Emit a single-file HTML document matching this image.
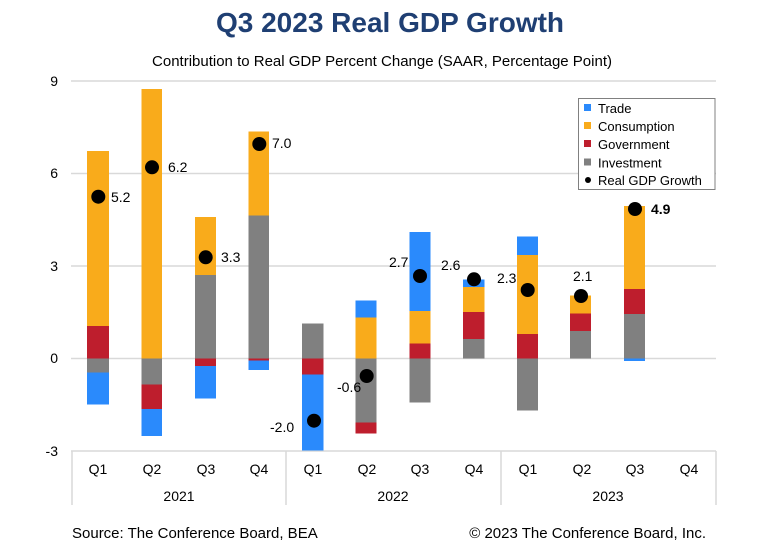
<!DOCTYPE html>
<html><head><meta charset="utf-8"><style>
body{margin:0;background:#fff;}
svg{display:block;font-family:"Liberation Sans",sans-serif;}
</style></head><body>
<svg width="768" height="551" viewBox="0 0 768 551">
<text x="390" y="32" text-anchor="middle" font-size="28" font-weight="bold" fill="#1f3f73">Q3 2023 Real GDP Growth</text>
<text x="382" y="66" text-anchor="middle" font-size="15" fill="#000">Contribution to Real GDP Percent Change (SAAR, Percentage Point)</text>
<g stroke="#d9d9d9" stroke-width="1.5">
<line x1="71" y1="81" x2="716" y2="81"/><line x1="71" y1="173.5" x2="716" y2="173.5"/>
<line x1="71" y1="266" x2="716" y2="266"/><line x1="71" y1="358.5" x2="716" y2="358.5"/>
<line x1="71" y1="451" x2="716" y2="451"/>
<line x1="72" y1="451" x2="72" y2="505"/><line x1="286" y1="451" x2="286" y2="505"/>
<line x1="501" y1="451" x2="501" y2="505"/><line x1="716" y1="451" x2="716" y2="505"/>
</g>
<g font-size="14" text-anchor="end" fill="#000">
<text x="58" y="86">9</text><text x="58" y="178">6</text><text x="58" y="271">3</text><text x="58" y="363">0</text><text x="58" y="456">-3</text>
</g>
<g>
<rect x="87" y="151" width="22" height="175" fill="#f9ab1b"/><rect x="87" y="326" width="22" height="32.5" fill="#be1e2d"/>
<rect x="87" y="358.5" width="22" height="14" fill="#808080"/><rect x="87" y="372.5" width="22" height="32" fill="#2a8afc"/>
<rect x="141.5" y="89" width="20.5" height="269.5" fill="#f9ab1b"/><rect x="141.5" y="358.5" width="20.5" height="26" fill="#808080"/>
<rect x="141.5" y="384.5" width="20.5" height="24.5" fill="#be1e2d"/><rect x="141.5" y="409" width="20.5" height="27" fill="#2a8afc"/>
<rect x="195" y="217" width="21" height="58" fill="#f9ab1b"/><rect x="195" y="275" width="21" height="83.5" fill="#808080"/>
<rect x="195" y="358.5" width="21" height="7.5" fill="#be1e2d"/><rect x="195" y="366" width="21" height="32.5" fill="#2a8afc"/>
<rect x="248.5" y="131.5" width="20.5" height="84" fill="#f9ab1b"/><rect x="248.5" y="215.5" width="20.5" height="143" fill="#808080"/>
<rect x="248.5" y="358.5" width="20.5" height="2" fill="#be1e2d"/><rect x="248.5" y="360.5" width="20.5" height="9.5" fill="#2a8afc"/>
<rect x="302" y="323.5" width="21.5" height="35" fill="#808080"/><rect x="302" y="358.5" width="21.5" height="16" fill="#be1e2d"/>
<rect x="302" y="374.5" width="21.5" height="76" fill="#2a8afc"/>
<rect x="355.5" y="300.5" width="21" height="17" fill="#2a8afc"/><rect x="355.5" y="317.5" width="21" height="41" fill="#f9ab1b"/>
<rect x="355.5" y="358.5" width="21" height="64" fill="#808080"/><rect x="355.5" y="422.5" width="21" height="11" fill="#be1e2d"/>
<rect x="409.5" y="232" width="21" height="79" fill="#2a8afc"/><rect x="409.5" y="311" width="21" height="32.5" fill="#f9ab1b"/>
<rect x="409.5" y="343.5" width="21" height="15" fill="#be1e2d"/><rect x="409.5" y="358.5" width="21" height="44" fill="#808080"/>
<rect x="463" y="279.5" width="21.5" height="7.5" fill="#2a8afc"/><rect x="463" y="287" width="21.5" height="25" fill="#f9ab1b"/>
<rect x="463" y="312" width="21.5" height="27" fill="#be1e2d"/><rect x="463" y="339" width="21.5" height="19.5" fill="#808080"/>
<rect x="517" y="236.5" width="21" height="18.5" fill="#2a8afc"/><rect x="517" y="255" width="21" height="79" fill="#f9ab1b"/>
<rect x="517" y="334" width="21" height="24.5" fill="#be1e2d"/><rect x="517" y="358.5" width="21" height="52" fill="#808080"/>
<rect x="570" y="295.5" width="21" height="18" fill="#f9ab1b"/><rect x="570" y="313.5" width="21" height="17.5" fill="#be1e2d"/>
<rect x="570" y="331" width="21" height="27.5" fill="#808080"/>
<rect x="624" y="206" width="21" height="83" fill="#f9ab1b"/><rect x="624" y="289" width="21" height="25" fill="#be1e2d"/>
<rect x="624" y="314" width="21" height="44.5" fill="#808080"/><rect x="624" y="358.5" width="21" height="2.5" fill="#2a8afc"/>
</g>
<g fill="#000">
<circle cx="98.3" cy="196.7" r="7"/><circle cx="152" cy="167.3" r="7"/><circle cx="205.7" cy="257.3" r="7"/>
<circle cx="259.3" cy="144" r="7"/><circle cx="314" cy="420.7" r="7"/><circle cx="366.7" cy="376" r="7"/>
<circle cx="420" cy="276" r="7"/><circle cx="474" cy="279.3" r="7"/><circle cx="527.7" cy="290" r="7"/>
<circle cx="581" cy="296" r="7"/><circle cx="635" cy="209" r="7"/>
</g>
<g font-size="14" fill="#000">
<text x="111" y="202">5.2</text><text x="168" y="172">6.2</text><text x="221" y="262">3.3</text>
<text x="272" y="148">7.0</text><text x="270" y="432">-2.0</text><text x="337" y="392">-0.6</text>
<text x="389" y="267">2.7</text><text x="441" y="270">2.6</text><text x="497" y="283">2.3</text>
<text x="573" y="281">2.1</text><text x="651" y="214" font-weight="bold">4.9</text>
</g>
<rect x="578.5" y="98.5" width="136.5" height="91" fill="#fff" stroke="#808080" stroke-width="1"/>
<g font-size="13" fill="#000">
<rect x="584" y="104" width="7" height="7" fill="#2a8afc"/><text x="598" y="113">Trade</text>
<rect x="584" y="122" width="7" height="7" fill="#f9ab1b"/><text x="598" y="131">Consumption</text>
<rect x="584" y="140" width="7" height="7" fill="#be1e2d"/><text x="598" y="149">Government</text>
<rect x="584" y="158.5" width="7" height="7" fill="#808080"/><text x="598" y="167.5">Investment</text>
<circle cx="588" cy="180" r="3"/><text x="598" y="185">Real GDP Growth</text>
</g>
<g font-size="14" text-anchor="middle" fill="#000">
<text x="98" y="474">Q1</text><text x="152" y="474">Q2</text><text x="206" y="474">Q3</text><text x="259" y="474">Q4</text>
<text x="313" y="474">Q1</text><text x="367" y="474">Q2</text><text x="420" y="474">Q3</text><text x="474" y="474">Q4</text>
<text x="528" y="474">Q1</text><text x="582" y="474">Q2</text><text x="635" y="474">Q3</text><text x="689" y="474">Q4</text>
<text x="179" y="501">2021</text><text x="393" y="501">2022</text><text x="608" y="501">2023</text>
</g>
<text x="72" y="538" font-size="15" fill="#000">Source: The Conference Board, BEA</text>
<text x="706" y="538" font-size="15" text-anchor="end" fill="#000">© 2023 The Conference Board, Inc.</text>
</svg>
</body></html>
